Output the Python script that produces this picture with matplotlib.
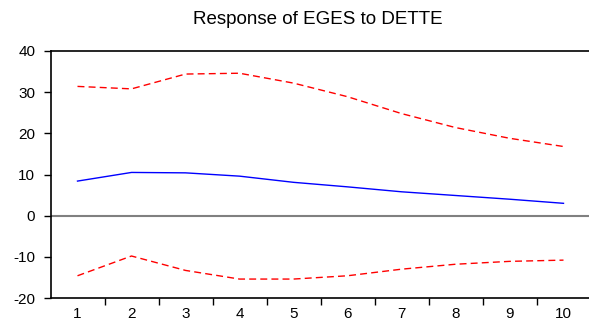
import matplotlib.pyplot as plt

plt.rcParams["font.family"] = ["Liberation Sans", "DejaVu Sans"]
plt.rcParams["axes.unicode_minus"] = False

periods = [1, 2, 3, 4, 5, 6, 7, 8, 9, 10]
response = [8.4, 10.5, 10.4, 9.6, 8.1, 7.0, 5.8, 4.9, 4.0, 3.0]
upper = [31.4, 30.8, 34.4, 34.6, 32.2, 28.9, 24.8, 21.4, 18.8, 16.8]
lower = [-14.6, -9.8, -13.3, -15.4, -15.4, -14.6, -13.0, -11.8, -11.1, -10.8]
yticks = [-20, -10, 0, 10, 20, 30, 40]

W, H = 589, 323
fig = plt.figure(figsize=(W / 100, H / 100), dpi=100)
ax = fig.add_axes([50.5 / W, (H - 298) / H, 540 / W, 247 / H])

ax.axhline(0, color="#808080", linewidth=1.5, zorder=1)
ax.plot(periods, upper, color="red", linestyle=(0, (5, 3)), linewidth=1.0)
ax.plot(periods, lower, color="red", linestyle=(0, (5, 3)), linewidth=1.0)
ax.plot(periods, response, color="blue", linewidth=1.0)

ax.set_xlim(0.5, 10.5)
ax.set_ylim(-20, 40)
ax.set_yticks(yticks)
ax.set_xticks(periods)
ax.set_xticks([p + 0.5 for p in periods[:-1]], minor=True)
ax.tick_params(axis="x", which="major", length=0, pad=6.5, labelsize=11)
ax.tick_params(axis="x", which="minor", length=5, width=1, direction="out")
ax.tick_params(axis="y", length=5, width=1, pad=6, labelsize=11, direction="out")

for side in ["left", "bottom", "top"]:
    ax.spines[side].set_linewidth(1.2)
ax.spines["right"].set_visible(False)

fig.text(318 / W, 1 - 19.5 / H, "Response of EGES to DETTE",
         ha="center", va="center", fontsize=13.5)

fig.savefig("out.png", dpi=100)
